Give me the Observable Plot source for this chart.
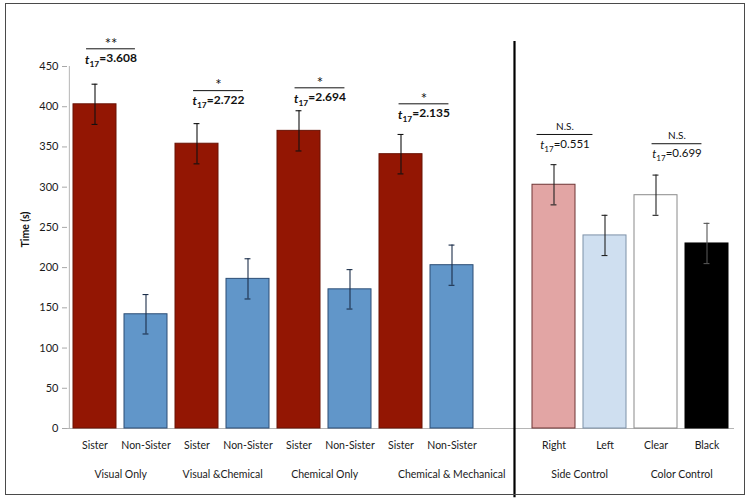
<!DOCTYPE html>
<html><head><meta charset="utf-8">
<script src="https://cdn.jsdelivr.net/npm/d3@7"></script>
<script src="https://cdn.jsdelivr.net/npm/@observablehq/plot@0.6"></script>
<style>
body{margin:0;background:#fff;}
#wrap{position:relative;width:750px;height:502px;overflow:hidden;}
#frame{position:absolute;left:5px;top:3px;width:738px;height:490px;border:1.5px solid #4a4a4a;pointer-events:none;}
svg{font-family:Lato,"Open Sans",sans-serif;}
</style></head><body><div id="wrap"><div id="frame"></div></div>
<script>
// ---- data ----
const groups = ["Visual Only","Visual &Chemical","Chemical Only","Chemical & Mechanical","Side Control","Color Control"];
const subLabels = ["Sister","Non-Sister","Sister","Non-Sister","Sister","Non-Sister","Sister","Non-Sister","Right","Left","Clear","Black"];
const barGroup = [0,0,1,1,2,2,3,3,4,4,5,5];
const means  = [403,142,354,186,370,173,341,203,303,240,290,230];
const errors = [25,24.5,25,25,25,24.5,24.5,25,25,25,25,25];
const sigLabels = ["**","*","*","*","N.S.","N.S."];
const tStats = ["3.608","2.722","2.694","2.135","0.551","0.699"];
const sigLevels = [472,420,423.5,403.6,365.5,354];
const yTicks = [0,50,100,150,200,250,300,350,400,450];

// ---- styling (not data) ----
const fills   = ["#931603","#6196c9","#931603","#6196c9","#931603","#6196c9","#931603","#6196c9","#e2a5a4","#cfdff0","#ffffff","#000000"];
const strokes = ["#6a1205","#2c4d75","#6a1205","#2c4d75","#6a1205","#2c4d75","#6a1205","#2c4d75","#6e3534","#7d91a8","#8a8a8a","#000000"];
const errCol  = ["#111","#1c2f4a","#111","#1c2f4a","#111","#1c2f4a","#111","#1c2f4a","#222","#222","#222","#555"];

const keys = subLabels.map((s,i)=>groups[barGroup[i]]+"|"+s);
const GAP = "gap";
const domain = [...keys.slice(0,8), GAP, ...keys.slice(8)];
const bars = keys.map((k,i)=>({key:k, v:means[i], e:errors[i], fill:fills[i], stroke:strokes[i], ec:errCol[i]}));

const W=750,H=502,mL=67,mR=16,mT=66,mB=74,pIn=0.16,pOut=0.08;
const step=(W-mL-mR)/(domain.length - pIn + 2*pOut);
const firstKey = g => keys[barGroup.indexOf(g)];

const annDx = [16,21.5,21,23,11,21];
const annW  = [49,50,50,50,56,50];
const groupDx = [0.5,0.5,0.5,0.5+25/step,0.5,0.5];

const marks = [
  Plot.ruleY([0],{stroke:"#b5b5b5", strokeWidth:1}),
  Plot.ruleX([domain[0]],{dx:-step/2, stroke:"#b5b5b5", strokeWidth:1}),
  Plot.axisY({ticks:yTicks, tickSize:5, tickPadding:4, stroke:"#a8a8a8", fill:"#1a1a1a", fontSize:11, label:null}),
  Plot.axisX({tickSize:0, tickPadding:13, fontSize:10.5, fill:"#1a1a1a", label:null, tickFormat:k => k===GAP ? "" : k.split("|")[1]}),
  Plot.barY(bars,{x:"key", y:"v", fill:"fill", stroke:"stroke", strokeWidth:1}),
  Plot.ruleX(bars,{x:"key", y1:d=>d.v-d.e, y2:d=>d.v+d.e, stroke:"ec", strokeWidth:1.1}),
  Plot.tickY(bars,{x:"key", y:d=>d.v+d.e, stroke:"ec", strokeWidth:1.1, insetLeft:(step*(1-pIn)-6)/2, insetRight:(step*(1-pIn)-6)/2}),
  Plot.tickY(bars,{x:"key", y:d=>d.v-d.e, stroke:"ec", strokeWidth:1.1, insetLeft:(step*(1-pIn)-6)/2, insetRight:(step*(1-pIn)-6)/2}),
  Plot.ruleX([GAP],{dx:11.5, y1:481, y2:-86, stroke:"#000", strokeWidth:2.2}),
  Plot.text(["Time (s)"],{frameAnchor:"left", rotate:-90, dx:-42, fontWeight:"bold", fontSize:10.5, fill:"#111"})
];
groups.forEach((g,i)=>{
  marks.push(Plot.text([g],{x:()=>firstKey(i), frameAnchor:"bottom", lineAnchor:"middle", dx:groupDx[i]*step, dy:46, fontSize:10.5, fill:"#1a1a1a"}));
  const ns = sigLabels[i]==="N.S.";
  const bw = step*(1-pIn);
  marks.push(Plot.tickY([sigLevels[i]],{x:()=>firstKey(i), y:d=>d, dx:annDx[i], insetLeft:-(annW[i]-bw)/2, insetRight:-(annW[i]-bw)/2, stroke:"#111", strokeWidth:1}));
  marks.push(Plot.text([sigLabels[i]],{x:()=>firstKey(i), y:()=>sigLevels[i], dx:annDx[i], dy:ns?-8:-5, fontSize:ns?10:15, fill:"#111"}));
  marks.push(Plot.text(["t17="+tStats[i]],{x:()=>firstKey(i), y:()=>sigLevels[i], dx:annDx[i], dy:11, fontSize:ns?11.5:12, fontWeight:ns?"normal":"bold", fill:"#111"}));
});

const chart = Plot.plot({
  width:W, height:H, marginLeft:mL, marginRight:mR, marginTop:mT, marginBottom:mB,
  x:{type:"band", domain, paddingInner:pIn, paddingOuter:pOut, axis:null},
  y:{domain:[0,450], axis:null},
  style:{fontFamily:"Lato, 'Open Sans', sans-serif", background:"transparent", overflow:"visible"},
  marks
});
// subscript formatting for t17
d3.select(chart).selectAll("text").each(function(){
  const t = this.textContent;
  if (t.startsWith("t17=")) {
    const sel = d3.select(this); sel.text(null);
    sel.append("tspan").attr("font-style","italic").text("t");
    sel.append("tspan").attr("font-size","70%").attr("dy","0.35em").text("17");
    sel.append("tspan").attr("dy","-0.35em").text(t.slice(3));
  }
});
document.getElementById("wrap").prepend(chart);
</script></body></html>
